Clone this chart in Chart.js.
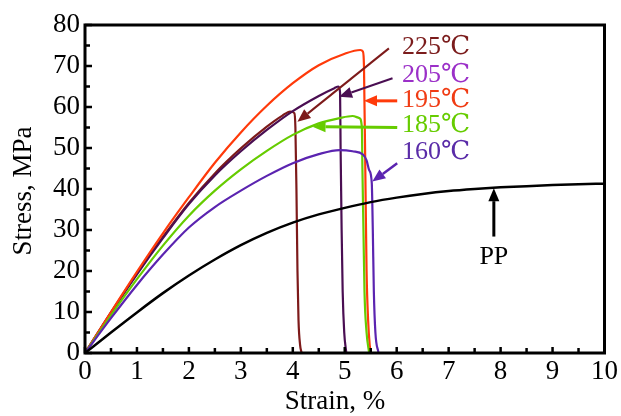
<!DOCTYPE html>
<html><head><meta charset="utf-8">
<script src="https://cdn.jsdelivr.net/npm/chart.js@4/dist/chart.umd.min.js"></script>
<style>html,body{margin:0;padding:0;background:#fff}#wrap{width:621px;height:416px}</style>
</head><body><div id="wrap"><canvas id="c" width="621" height="416"></canvas></div>
<script>
// ---- data (strain %, stress MPa) ----
const seriesNames = ['225℃','205℃','195℃','185℃','160℃','PP'];
const strain225 = [0,0.5,1,1.5,2,2.5,3,3.5,3.8,3.95,4.03,4.05,4.07,4.09,4.11,4.14,4.17];
const stress225 = [0,9.9,19.4,28.3,36.6,43.8,49.9,55.2,57.9,58.9,58.5,55,40,20,8,2,0];
const strain205 = [0,0.5,1,1.5,2,2.5,3,3.5,4,4.5,4.8,4.88,4.91,4.92,4.94,4.96,4.99,5.03];
const stress205 = [0,9.8,19.2,28,36.3,43.3,49.2,54.4,59,62.7,64.6,65,63.5,50,30,15,5,0];
const strain195 = [0,0.5,1,1.5,2,2.5,3,3.5,4,4.5,5,5.3,5.35,5.37,5.4,5.42,5.45,5.48,5.5];
const stress195 = [0,10,19.8,29.2,38,46.4,53.8,60.3,65.8,70.2,73,73.9,73.5,70,40,20,8,2,0];
const strain185 = [0,0.5,1,1.5,2,2.5,3,3.5,4,4.5,4.9,5.15,5.28,5.33,5.34,5.36,5.38,5.42,5.47];
const stress185 = [0,9.2,18,26.2,33.5,39.6,44.8,49.3,53.2,56,57.3,57.8,57.3,55,45,30,15,5,0];
const strain160 = [0,0.5,1,1.5,2,2.5,3,3.5,4,4.5,4.9,5.15,5.35,5.42,5.47,5.52,5.54,5.56,5.59,5.65];
const stress160 = [0,8.5,16.6,24,30.6,35.6,39.6,43.2,46.3,48.5,49.5,49.2,48.4,47,44.6,41.5,30,15,5,0];
const strainPP = [0,0.5,1,1.5,2,2.5,3,3.5,4,4.5,5,5.5,6,6.5,7,7.5,8,8.5,9,9.5,10];
const stressPP = [0,5,9.9,14.6,18.9,22.8,26.3,29.3,31.8,33.8,35.4,36.8,37.9,38.8,39.5,40,40.4,40.7,40.95,41.15,41.3];

// ---- ticks ----
const xMajorTicks = [0,1,2,3,4,5,6,7,8,9,10];
const xMinorTicks = [0.5,1.5,2.5,3.5,4.5,5.5,6.5,7.5,8.5,9.5];
const yMajorTicks = [0,10,20,30,40,50,60,70,80];
const yMinorTicks = [5,15,25,35,45,55,65,75];
const xTitle = 'Strain, %';
const yTitle = 'Stress, MPa';

// ---- annotations (data coordinates) ----
const labelX = [6.1,6.1,6.1,6.1,6.1,7.87];
const labelY = [74.7,67.8,61.7,55.6,49.1,23.4];
const arrowFromX = [5.85,5.92,6.01,6.01,6.01,7.87];
const arrowFromY = [74.3,67.0,61.5,55.0,46.3,28.4];
const arrowToX = [4.09,4.89,5.37,4.38,5.53,7.87];
const arrowToY = [56.4,62.5,61.5,55.2,41.8,40.2];

const lineColors = ['#7D1A1A','#4A0E52','#FF3A0A','#66CC00','#5B24B0','#000000'];
const textColors = ['#7B1C1C','#9B30C8','#F03C14','#66CC00','#5A2CA8','#000000'];
const arrowWidths = [2,2,3,3,2.5,3];

const FONT = "'Liberation Serif','DejaVu Serif',serif";
const LABEL_FONT = "'Liberation Serif','DejaVu Serif','Noto Sans CJK SC',serif";
const xs = [strain225,strain205,strain195,strain185,strain160,strainPP];
const ys = [stress225,stress205,stress195,stress185,stress160,stressPP];

const datasets = xs.map((sx,i)=>({
  label: seriesNames[i],
  data: sx.map((v,j)=>({x:v,y:ys[i][j]})),
  borderColor: lineColors[i],
  borderWidth: i===5?2.5:2.2,
  pointRadius: 0,
  fill: false,
  cubicInterpolationMode: 'monotone',
  order: 5-i
}));

const framePlugin = {
  id:'frame',
  afterDatasetsDraw(chart){
    const {ctx, chartArea:a, scales:{x,y}} = chart;
    ctx.save();
    ctx.strokeStyle='#000';
    ctx.lineWidth=3;
    ctx.strokeRect(a.left,a.top,a.right-a.left,a.bottom-a.top);
    ctx.lineWidth=2.5;
    ctx.beginPath();
    xMajorTicks.forEach(v=>{const p=x.getPixelForValue(v); ctx.moveTo(p,a.bottom); ctx.lineTo(p,a.bottom-6);});
    xMinorTicks.forEach(v=>{const p=x.getPixelForValue(v); ctx.moveTo(p,a.bottom); ctx.lineTo(p,a.bottom-5);});
    yMajorTicks.forEach(v=>{const p=y.getPixelForValue(v); ctx.moveTo(a.left,p); ctx.lineTo(a.left+7,p);});
    yMinorTicks.forEach(v=>{const p=y.getPixelForValue(v); ctx.moveTo(a.left,p); ctx.lineTo(a.left+5,p);});
    ctx.stroke();
    // axis titles
    ctx.fillStyle='#000';
    ctx.font='27px '+FONT;
    ctx.textAlign='center'; ctx.textBaseline='middle';
    ctx.fillText(xTitle, 335, 402);
    ctx.save(); ctx.translate(24,191); ctx.rotate(-Math.PI/2); ctx.fillText(yTitle,0,0); ctx.restore();
    // annotations
    for(let i=0;i<seriesNames.length;i++){
      const x0=x.getPixelForValue(arrowFromX[i]), y0=y.getPixelForValue(arrowFromY[i]);
      const x1=x.getPixelForValue(arrowToX[i]), y1=y.getPixelForValue(arrowToY[i]);
      const ang=Math.atan2(y1-y0,x1-x0);
      const hl=13, hw=5.5;
      const bx=x1-hl*Math.cos(ang), by=y1-hl*Math.sin(ang);
      ctx.strokeStyle=lineColors[i]; ctx.fillStyle=lineColors[i];
      ctx.lineWidth=arrowWidths[i];
      ctx.beginPath(); ctx.moveTo(x0,y0); ctx.lineTo(bx,by); ctx.stroke();
      ctx.beginPath();
      ctx.moveTo(x1,y1);
      ctx.lineTo(bx+hw*Math.sin(ang), by-hw*Math.cos(ang));
      ctx.lineTo(bx-hw*Math.sin(ang), by+hw*Math.cos(ang));
      ctx.closePath(); ctx.fill();
      ctx.fillStyle=textColors[i];
      ctx.font='26px '+LABEL_FONT;
      ctx.textBaseline='middle';
      ctx.textAlign = i===5?'center':'left';
      ctx.fillText(seriesNames[i], x.getPixelForValue(labelX[i]), y.getPixelForValue(labelY[i]));
    }
    ctx.restore();
  }
};

new Chart(document.getElementById('c'),{
  type:'line',
  data:{datasets},
  options:{
    responsive:false,
    devicePixelRatio:1,
    animation:false,
    layout:{padding:{top:25,right:15,left:0,bottom:0}},
    plugins:{legend:{display:false},tooltip:{enabled:false}},
    scales:{
      x:{type:'linear',min:0,max:10,
        afterBuildTicks(s){s.ticks=xMajorTicks.map(v=>({value:v}));},
        afterFit(s){s.height=63;},
        grid:{display:false,drawTicks:false},border:{display:false},
        ticks:{color:'#000',padding:3,font:{family:FONT,size:27},maxRotation:0,autoSkip:false},
        title:{display:false}},
      y:{type:'linear',min:0,max:80,
        afterBuildTicks(s){s.ticks=yMajorTicks.map(v=>({value:v}));},
        afterFit(s){s.width=85;},
        grid:{display:false,drawTicks:false},border:{display:false},
        ticks:{color:'#000',padding:5,font:{family:FONT,size:27},autoSkip:false},
        title:{display:false}}
    }
  },
  plugins:[framePlugin]
});
</script></body></html>
